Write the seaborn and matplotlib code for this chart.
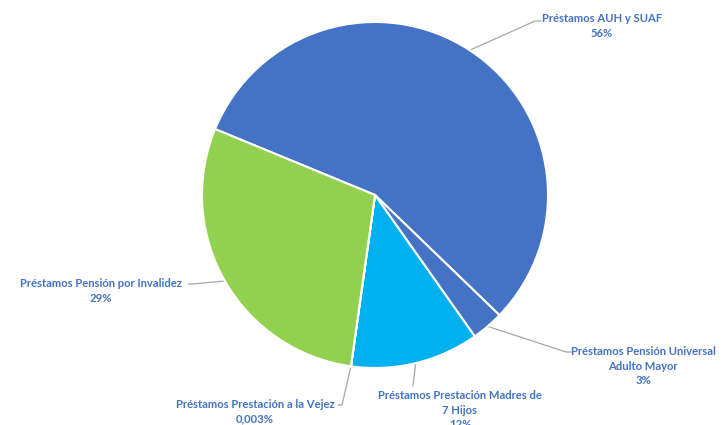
import numpy as np
import matplotlib
matplotlib.use("Agg")
import matplotlib.pyplot as plt
import seaborn as sns

sns.set_style("white")
plt.rcParams['font.family'] = ['Lato', 'DejaVu Sans']

labels = ['Préstamos AUH y SUAF', 'Préstamos Pensión Universal\nAdulto Mayor',
          'Préstamos Prestación Madres de\n7 Hijos', 'Préstamos Prestación a la Vejez',
          'Préstamos Pensión por Invalidez']
values = [56.0, 3.0, 12.0, 0.003, 29.0]
pct_text = ['56%', '3%', '12%', '0,003%', '29%']
colors = ['#4472C4', '#4472C4', '#00B0F0', '#ED7D31', '#92D050']

# label text anchor (image pixels) and leader elbow
text_pos = [(602, 13), (643, 346), (460, 390), (255, 399), (101, 278)]
elbows = [[(535, 21), (541, 21)], [(566, 352), (571, 352)], [(413, 386)],
          [(342, 405), (338, 405)], [(193, 284), (188, 284)]]

W, H = 723, 425
cx, cy, r = 375, 195, 173

fig = plt.figure(figsize=(7.23, 4.25), dpi=100)
ax = fig.add_axes([0, 0, 1, 1])

wedges, _ = ax.pie(values, colors=colors, startangle=157.6, counterclock=False,
                   center=(cx, H - cy), radius=r, frame=True,
                   wedgeprops=dict(edgecolor='white', linewidth=1.5))
ax.set_xlim(0, W)
ax.set_ylim(0, H)
ax.set_aspect('equal')
ax.axis('off')

for i, w in enumerate(wedges):
    mid = np.deg2rad((w.theta1 + w.theta2) / 2)
    px = cx + r * np.cos(mid)
    py = (H - cy) + r * np.sin(mid)
    xs = [px] + [e[0] for e in elbows[i]]
    ys = [py] + [H - e[1] for e in elbows[i]]
    ax.plot(xs, ys, color='#A6A6A6', lw=0.9, zorder=0.5)
    tx, ty = text_pos[i]
    ax.text(tx, H - ty, labels[i] + '\n' + pct_text[i], ha='center', va='top',
            color='#4472C4', fontsize=8.1, fontweight='bold', linespacing=1.4)

fig.savefig('out.png', dpi=100)
